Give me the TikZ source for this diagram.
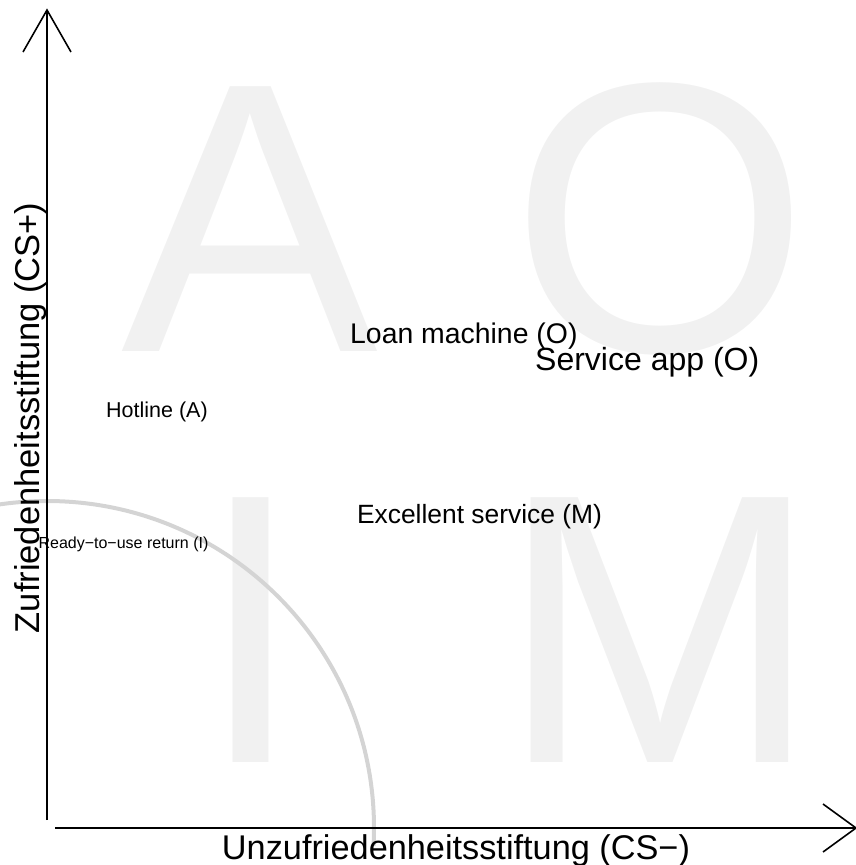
\documentclass[tikz,border=0pt]{standalone}
\usepackage{fontspec}
\setmainfont{Liberation Sans}
\definecolor{quadletter}{gray}{0.945}
\definecolor{zonearc}{gray}{0.83}
\tikzset{
  quad/.style={text=quadletter, inner sep=0pt, anchor=base, font=\fontsize{385}{385}\selectfont},
  lbl/.style={inner sep=0pt, anchor=base},
  axisline/.style={line width=1.6pt, black, line cap=butt},
  barb/.style={line width=1.6pt, black, line join=miter},
}
\begin{document}
\begin{tikzpicture}[x=1pt, y=-1pt]
\useasboundingbox (0,0) rectangle (856,865);

% quadrant letters
\node[quad] (qA) at (250,351) {A};
\node[quad] (qO) at (660,351) {O};
\node[quad] (qI) at (251,762) {I};
\node[quad] (qM) at (660,762) {M};

% indifference zone
\begin{scope}
  \clip (0,0) rectangle (856,845);
  \draw[zonearc, line width=4pt] (47,828) circle[radius=327];
\end{scope}

% axes
\coordinate (ybot) at (47,820);
\coordinate (ytip) at (47,10);
\coordinate (ybl) at (23,52);
\coordinate (ybr) at (71,52);
\coordinate (xleft) at (55,828);
\coordinate (xtip) at (856,828);
\coordinate (xbu) at (823,804);
\coordinate (xbd) at (823,852);
\draw[axisline] (ybot) -- (ytip);
\draw[barb] (ybl) -- (ytip) -- (ybr);
\draw[axisline] (xleft) -- (xtip);
\draw[barb] (xbu) -- (xtip) -- (xbd);

% axis titles
\node[lbl, font=\fontsize{34.3}{40}\selectfont] (xlab) at (456,859) {Unzufriedenheitsstiftung (CS−)};
\node[lbl, font=\fontsize{34.5}{40}\selectfont, rotate=90] (ylab) at (39,418) {Zufriedenheitsstiftung (CS+)};

% features
\node[lbl, font=\fontsize{21.5}{25}\selectfont] (hot) at (157,417) {Hotline (A)};
\node[lbl, font=\fontsize{16}{19}\selectfont] (ready) at (123.5,548) {Ready−to−use return (I)};
\node[lbl, font=\fontsize{28.4}{33}\selectfont, anchor=base west] (loan) at (350,343) {Loan machine (O)};
\node[lbl, font=\fontsize{32}{37}\selectfont, anchor=base west] (app) at (535,370) {Service app (O)};
\node[lbl, font=\fontsize{26.4}{31}\selectfont] (exc) at (479.5,523) {Excellent service (M)};
\end{tikzpicture}
\end{document}
